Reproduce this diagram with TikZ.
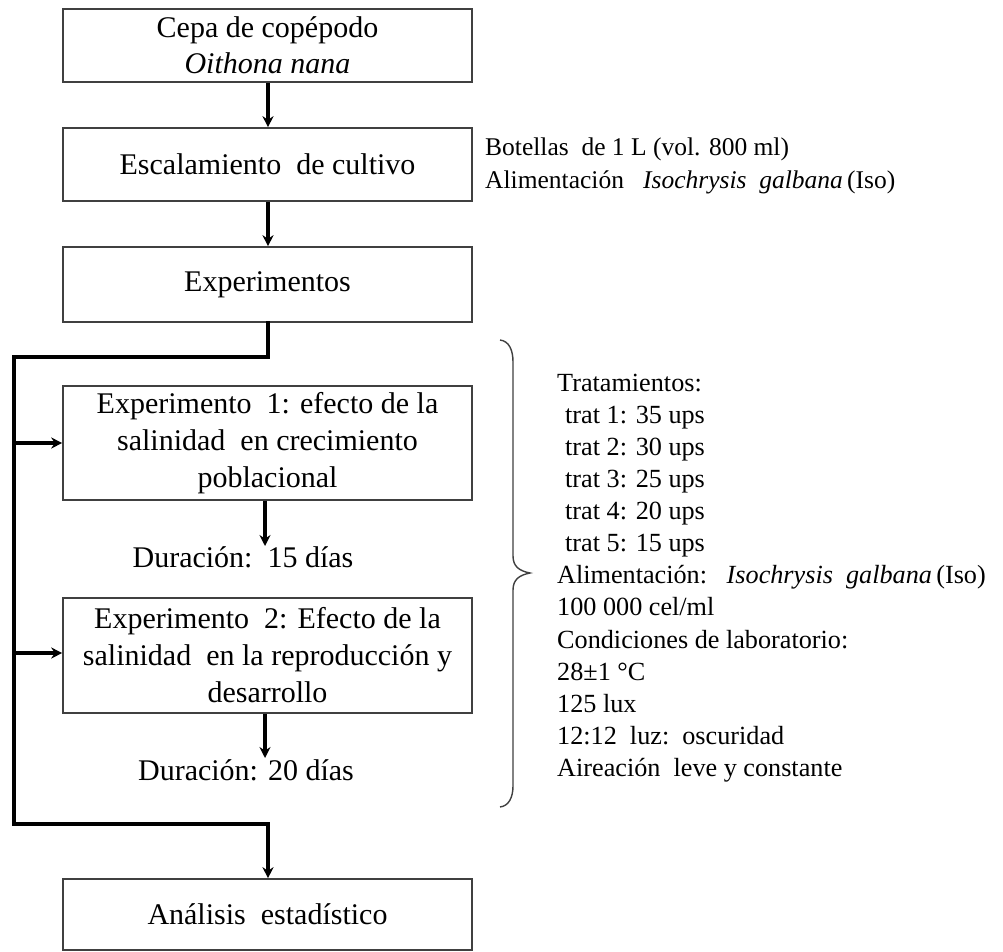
\documentclass[tikz,border=0pt]{standalone}
\usepackage{fontspec}
\setmainfont{Liberation Serif}
\usetikzlibrary{arrows.meta}
\begin{document}
\begin{tikzpicture}[x=1pt,y=-1pt,
  box/.style={draw=black!75, line width=1.6pt, minimum width=409pt, align=center, inner sep=0pt,
    font=\fontsize{30}{37}\selectfont},
  conn/.style={line width=3.2pt, black},
  arr/.style={conn, -{Stealth[length=11pt,width=11pt]}},
  side/.style={anchor=west, align=left, inner sep=0pt, font=\fontsize{25.5}{32.2}\selectfont},
  lbl/.style={inner sep=0pt, font=\fontsize{30}{37}\selectfont}]
\useasboundingbox (0,0) rectangle (1003,952);
\fill[white] (0,0) rectangle (1003,952);
% boxes
\node[box, minimum height=73pt] (b1) at (267.5,45.5) {Cepa de copépodo\\[-1pt]\textit{Oithona nana}};
\node[box, minimum height=73pt] (b2) at (267.5,164.5) {Escalamiento\ \ de cultivo};
\node[box, minimum height=75pt] (b3) at (267.5,284.5) {Experimentos};
\node[box, minimum height=114pt] (b4) at (267.5,443) {Experimento\ \ 1: efecto de la\\salinidad\ \ en crecimiento\\poblacional};
\node[box, minimum height=115pt] (b5) at (267.5,655.5) {Experimento\ \ 2: Efecto de la\\salinidad\ \ en la reproducción y\\desarrollo};
\node[box, minimum height=71pt] (b6) at (267.5,914.5) {Análisis\ \ estadístico};
% duration labels
\node[lbl] (d1) at (243,557) {Duración:\ \ 15 días};
\node[lbl] (d2) at (246,770) {Duración: 20 días};
% side texts
\node[side] (s1) at (485,166) {Botellas\ \ de 1 L (vol. 800 ml)\\Alimentación\ \ \ \textit{Isochrysis\ \ galbana}\,(Iso)};
\node[side, font=\fontsize{26.2}{32.1}\selectfont] (s2) at (557,578) {Tratamientos:\\
\hspace*{8pt}trat 1: 35 ups\\
\hspace*{8pt}trat 2: 30 ups\\
\hspace*{8pt}trat 3: 25 ups\\
\hspace*{8pt}trat 4: 20 ups\\
\hspace*{8pt}trat 5: 15 ups\\
Alimentación:\ \ \ \textit{Isochrysis\ \ galbana}\,(Iso)\\
100 000 cel/ml\\
Condiciones de laboratorio:\\
28±1 °C\\
125 lux\\
12:12\ \ luz:\ \ oscuridad\\
Aireación\ \ leve y constante};
% brace
\draw[black!75, line width=1.4pt] (500,340) .. controls (509,341) and (513,350) .. (513,362)
  -- (513,556) .. controls (513,567) and (520,571) .. (530,573)
  .. controls (520,575) and (513,579) .. (513,590)
  -- (513,786) .. controls (513,797) and (509,806) .. (500,807);
% connectors
\coordinate (j1) at (268,357);
\coordinate (j2) at (14,357);
\coordinate (j3) at (14,824);
\coordinate (j4) at (268,824);
\coordinate (e4) at (14,443);
\coordinate (e5) at (14,653);
\coordinate (t4) at (265,546);
\coordinate (t5) at (265,758);
\draw[arr] (b1.south -| j1) -- (b2.north -| j1);
\draw[arr] (b2.south -| j1) -- (b3.north -| j1);
\draw[conn, line cap=rect] (b3.south -| j1) -- (j1) -- (j2) -- (j3) -- (j4);
\draw[arr] (j4) -- (b6.north -| j4);
\draw[arr] (e4) -- (b4.west |- e4);
\draw[arr] (e5) -- (b5.west |- e5);
\draw[arr] (b4.south -| t4) -- (t4);
\draw[arr] (b5.south -| t5) -- (t5);
\end{tikzpicture}
\end{document}
